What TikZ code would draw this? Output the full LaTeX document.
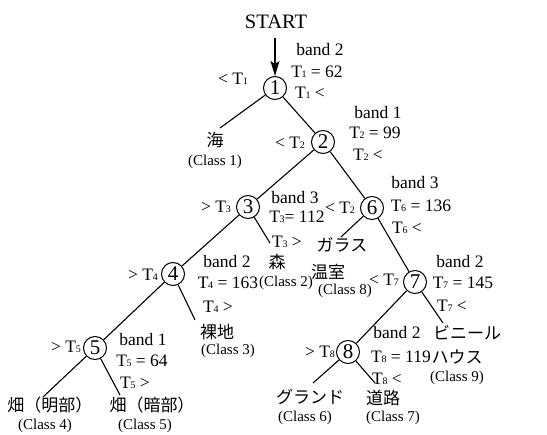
\documentclass[tikz,border=0pt]{standalone}
\usepackage{fontspec}
\setmainfont{Liberation Serif}
\newfontfamily\jpf{Noto Sans CJK JP}
\usetikzlibrary{arrows.meta}
\newcommand\Ts[1]{T\kern-0.02em{\fontsize{10}{10}\selectfont #1}}
\tikzset{
  dec/.style={circle, draw, line width=1pt, inner sep=0pt, minimum size=23pt, font=\fontsize{21}{21}\selectfont},
  lab/.style={inner sep=0pt, font=\fontsize{17.5}{17.5}\selectfont},
  cls/.style={inner sep=0pt, font=\fontsize{15}{15}\selectfont},
  jp/.style={inner sep=0pt, font=\fontsize{17}{17}\selectfont\jpf},
  edge/.style={line width=1.1pt}
}
\begin{document}
\begin{tikzpicture}[x=1pt,y=-1pt]
\useasboundingbox[fill=white] (0,0) rectangle (547,435);
% decision nodes
\node[dec] (c1) at (275,88) {1};
\node[dec] (c2) at (323,142) {2};
\node[dec] (c3) at (248,207) {3};
\node[dec] (c6) at (372,208) {6};
\node[dec] (c4) at (173,274) {4};
\node[dec] (c7) at (415,282) {7};
\node[dec] (c5) at (95,348) {5};
\node[dec] (c8) at (348,352) {8};
% start
\node[inner sep=0pt, font=\fontsize{20.5}{20.5}\selectfont] (start) at (276,22) {START};
\coordinate (s0) at (275,38);
\draw[edge, -{Stealth[length=15pt,width=9pt,inset=3pt]}] (s0) -- (c1.north);
% leaf end points
\coordinate (e1) at (220,128);
\coordinate (e3) at (270,243);
\coordinate (e6) at (341,237);
\coordinate (e4) at (195,320);
\coordinate (e5a) at (43,397);
\coordinate (e5b) at (120,395);
\coordinate (e8a) at (313,383);
\coordinate (e8b) at (375,383);
\coordinate (e7) at (443,323);
% edges
\draw[edge] (c1) -- (c2);
\draw[edge] (c1) -- (e1);
\draw[edge] (c2) -- (c3);
\draw[edge] (c2) -- (c6);
\draw[edge] (c3) -- (c4);
\draw[edge] (c3) -- (e3);
\draw[edge] (c6) -- (e6);
\draw[edge] (c6) -- (c7);
\draw[edge] (c4) -- (c5);
\draw[edge] (c4) -- (e4);
\draw[edge] (c7) -- (c8);
\draw[edge] (c7) -- (e7);
\draw[edge] (c5) -- (e5a);
\draw[edge] (c5) -- (e5b);
\draw[edge] (c8) -- (e8a);
\draw[edge] (c8) -- (e8b);
% leaves
\node[jp] (l1) at (215,140) {海};
\node[cls] (k1) at (215,162) {(Class 1)};
\node[jp] (l2) at (277,262) {森};
\node[cls] (k2) at (286,283) {(Class 2)};
\node[jp] (l8a) at (342,245) {ガラス};
\node[jp] (l8b) at (328,272) {温室};
\node[cls] (k8) at (345,291) {(Class 8)};
\node[jp] (l3) at (217,332) {裸地};
\node[cls] (k3) at (228,351) {(Class 3)};
\node[jp] (l4) at (50,405) {畑（明部）};
\node[cls] (k4) at (45,426) {(Class 4)};
\node[jp] (l5) at (152,405) {畑（暗部）};
\node[cls] (k5) at (145,426) {(Class 5)};
\node[jp] (l6) at (310,397) {グランド};
\node[cls] (k6) at (305,418) {(Class 6)};
\node[jp] (l7) at (383,398) {道路};
\node[cls] (k7) at (393,418) {(Class 7)};
\node[jp] (l9a) at (467,333) {ビニール};
\node[jp] (l9b) at (457,357) {ハウス};
\node[cls] (k9) at (457,378) {(Class 9)};
% labels node 1
\node[lab] (b1) at (320,50) {band 2};
\node[lab] (t1) at (317,72) {\Ts{1} = 62};
\node[lab] (r1) at (310,93) {\Ts{1} <};
\node[lab] (q1) at (233,79) {< \Ts{1}};
% node 2
\node[lab] (b2) at (378,113) {band 1};
\node[lab] (t2) at (375,133) {\Ts{2} = 99};
\node[lab] (r2) at (368,155) {\Ts{2} <};
\node[lab] (q2) at (290,143) {< \Ts{2}};
% node 3
\node[lab] (b3) at (295,198) {band 3};
\node[lab] (t3) at (297,217) {\Ts{3}= 112};
\node[lab] (r3) at (287,242) {\Ts{3} >};
\node[lab] (q3) at (216,207) {> \Ts{3}};
% node 6
\node[lab] (b6) at (415,183) {band 3};
\node[lab] (t6) at (421,206) {\Ts{6} = 136};
\node[lab] (r6) at (407,228) {\Ts{6} <};
\node[lab] (q6) at (340,208) {< \Ts{2}};
% node 7
\node[lab] (b7) at (460,262) {band 2};
\node[lab] (t7) at (463,283) {\Ts{7} = 145};
\node[lab] (r7) at (452,306) {\Ts{7} <};
\node[lab] (q7) at (384,280) {< \Ts{7}};
% node 4
\node[lab] (b4) at (227,262) {band 2};
\node[lab] (t4) at (228,283) {\Ts{4} = 163};
\node[lab] (r4) at (218,307) {\Ts{4} >};
\node[lab] (q4) at (143,275) {> \Ts{4}};
% node 5
\node[lab] (b5) at (143,340) {band 1};
\node[lab] (t5) at (142,361) {\Ts{5} = 64};
\node[lab] (r5) at (135,383) {\Ts{5} >};
\node[lab] (q5) at (66,347) {> \Ts{5}};
% node 8
\node[lab] (b8) at (397,333) {band 2};
\node[lab] (t8) at (401,357) {\Ts{8} = 119};
\node[lab] (r8) at (387,379) {\Ts{8} <};
\node[lab] (q8) at (320,352) {> \Ts{8}};
\end{tikzpicture}
\end{document}
